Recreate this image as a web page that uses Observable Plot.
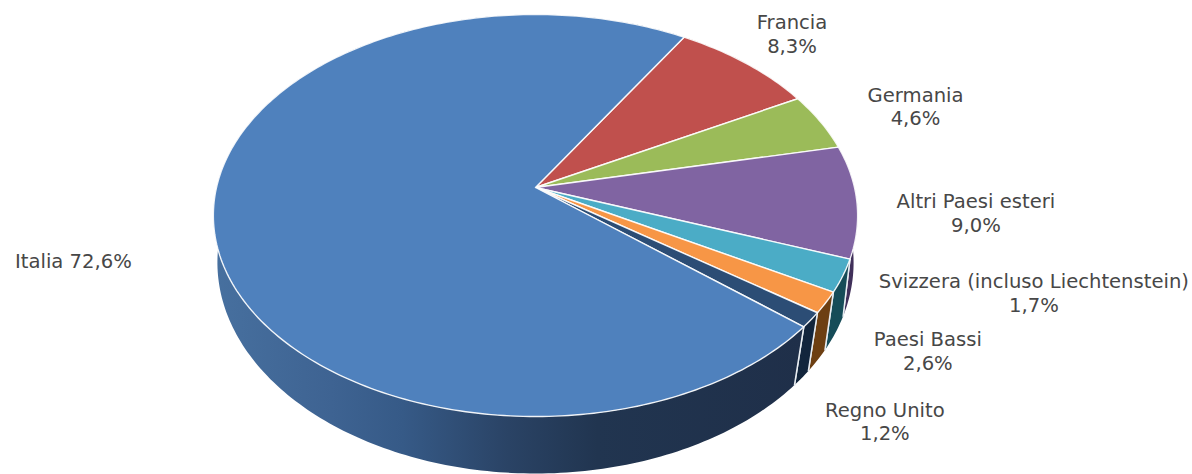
<!DOCTYPE html>
<html>
<head>
<meta charset="utf-8">
<script src="https://cdn.jsdelivr.net/npm/d3@7"></script>
<script src="https://cdn.jsdelivr.net/npm/@observablehq/plot@0.6"></script>
<style>html,body{margin:0;padding:0;background:#fff}svg{display:block}</style>
</head>
<body>
<div id="chart"></div>
<script>
// Data
const categories = ["Italia","Francia","Germania","Altri Paesi esteri","Paesi Bassi","Svizzera (incluso Liechtenstein)","Regno Unito"];
const values = [72.6,8.3,4.6,9.0,2.6,1.7,1.2];
const valueLabels = ["72,6%","8,3%","4,6%","9,0%","2,6%","1,7%","1,2%"];

// Style
const topColors = ["#4f81bd","#c0504d","#9bbb59","#8064a2","#4bacc6","#f79646","#2c4d75"];
const wallColors = ["url(#wallItalia)","#6e3230","#5f7736","#40305a","#164c58","#6d3f12","#12253c"];
const labelOffsets = [[-140,40],[46,-30],[95,-16],[119,11],[85,75],[208,-10],[74,101]];

// Perspective of the tilted disc
const W = 1192, H = 474, CX = 535, CY = 187, SX = 319, SY = 197.1;
const startDeg = 31.4;
const topK = 0.1393;
const botK = 0.1, botS = 316.5 / SX, botT = 208.9 / SY, botC = (240.9 - CY) / SY;

const rimTop = deg => {
  const t = deg * Math.PI / 180, X = Math.sin(t), Y = -Math.cos(t), d = 1 - topK * Y;
  return {x: X / d, y: Y / d};
};
const rimBottom = deg => {
  const t = deg * Math.PI / 180, X = Math.sin(t), Y = -Math.cos(t), d = 1 - botK * Y;
  return {x: botS * X / d, y: botC + botT * Y / d};
};

// Slices start at Francia and run clockwise, Italia closes the circle
const order = [1,2,3,4,5,6,0];
const total = d3.sum(values);
let cursor = startDeg;
const slices = order.map(i => {
  const a0 = cursor, a1 = cursor + values[i] / total * 360;
  cursor = a1;
  return {i, a0, a1, mid: (a0 + a1) / 2};
});
const arcAngles = s => {
  const n = Math.max(2, Math.ceil(s.a1 - s.a0));
  return d3.range(n + 1).map(j => s.a0 + (s.a1 - s.a0) * j / n);
};

const xy = {x: "x", y: "y"};
const marks = [];

// Outer walls, below the top faces
for (const s of slices) {
  const as = arcAngles(s);
  const poly = [...as.map(rimTop), ...as.slice().reverse().map(rimBottom)];
  poly.push(poly[0]);
  marks.push(Plot.line(poly, {...xy, fill: wallColors[s.i], strokeWidth: 0, curve: "linear"}));
  for (const a of [s.a0, s.a1]) {
    marks.push(Plot.line([rimTop(a), rimBottom(a)], {...xy, stroke: "#e8edf2", strokeWidth: 1.5}));
  }
}

// Top faces
for (const s of slices) {
  const poly = [{x: 0, y: 0}, ...arcAngles(s).map(rimTop), {x: 0, y: 0}];
  marks.push(Plot.line(poly, {...xy, fill: topColors[s.i], stroke: "#ffffff", strokeWidth: 1.4, strokeOpacity: 0.9, strokeLinejoin: "round"}));
}

// Labels
for (const s of slices) {
  const p = rimTop(s.mid);
  const [dx, dy] = labelOffsets[s.i];
  const sep = s.i === 0 ? " " : "\n";
  marks.push(Plot.text([{...p, t: categories[s.i] + sep + valueLabels[s.i]}], {
    ...xy, text: "t", dx, dy, fill: "#474747", fontSize: 19.6, lineHeight: 1.22,
    fontFamily: "'DejaVu Sans', sans-serif", textAnchor: "middle", lineAnchor: "middle"
  }));
}

const chart = Plot.plot({
  width: W, height: H,
  margin: 0,
  style: {background: "#fff"},
  x: {axis: null, domain: [-CX / SX, (W - CX) / SX], range: [0, W]},
  y: {axis: null, domain: [-CY / SY, (H - CY) / SY], range: [0, H]},
  marks
});

// Gradient for the long wall
const defs = d3.select(chart).insert("defs", ":first-child");
const grad = defs.append("linearGradient").attr("id", "wallItalia")
  .attr("x1", 0).attr("x2", 1).attr("y1", 0).attr("y2", 0);
[[0,"#47709f"],[0.2,"#3e6392"],[0.32,"#365a87"],[0.5,"#2a4365"],[0.65,"#213550"],[1,"#1f2f49"]]
  .forEach(([o, c]) => grad.append("stop").attr("offset", o).attr("stop-color", c));

document.getElementById("chart").append(chart);
</script>
</body>
</html>
